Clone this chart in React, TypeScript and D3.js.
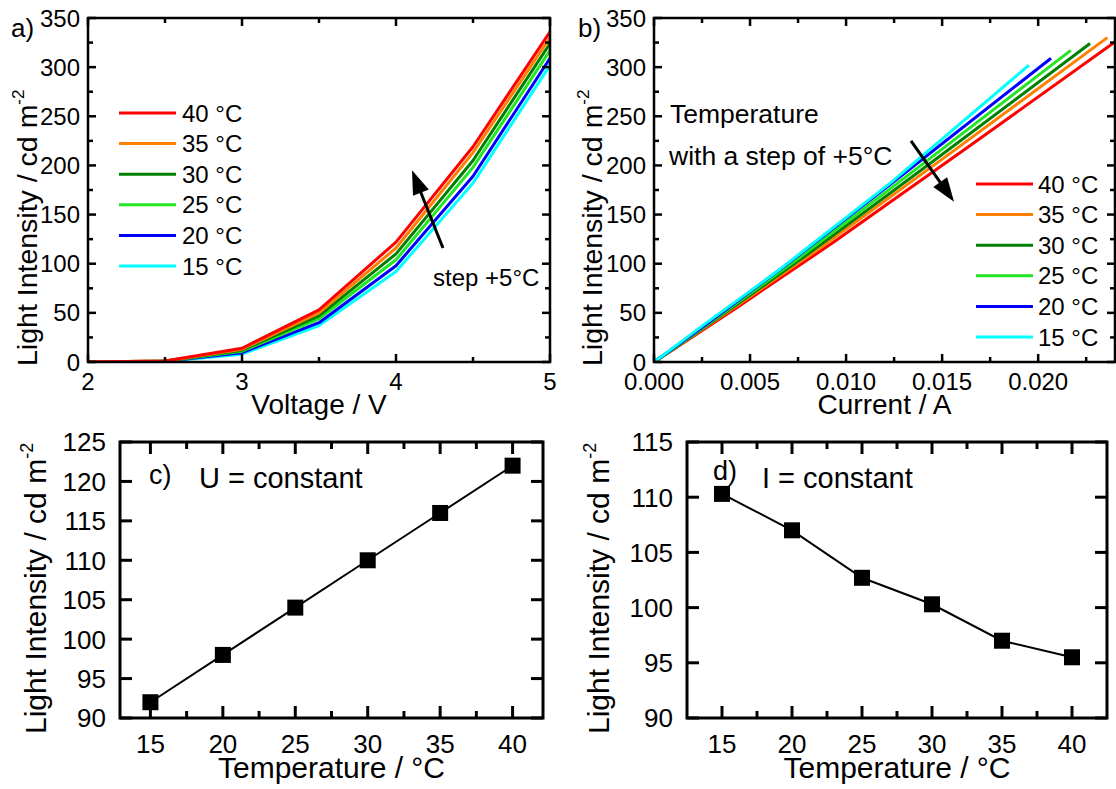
import React from "react";
import * as d3 from "d3";

const FONT = "'Liberation Sans', Arial, Helvetica, sans-serif";

// ---- Data: panels a) and b) ----
const seriesNames = ["40 °C", "35 °C", "30 °C", "25 °C", "20 °C", "15 °C"];
const seriesColors = ["#ff0000", "#ff8000", "#007f00", "#22e622", "#0000ff", "#00ffff"];
const voltage = [2, 2.5, 3, 3.5, 4, 4.5, 5];

const light40 = [0, 1, 14, 53, 122, 219, 336];
const light35 = [0, 1, 13, 50, 116, 213, 330];
const light30 = [0, 0.9, 12, 47, 110, 205, 324];
const light25 = [0, 0.8, 11, 44, 104, 198, 317];
const light20 = [0, 0.7, 9.5, 40, 98, 189, 309];
const light15 = [0, 0.5, 8, 37, 92, 182, 302];

const current40 = [0, 0.00008, 0.00111, 0.00413, 0.00936, 0.01637, 0.02474];
const current35 = [0, 0.00008, 0.001, 0.00378, 0.00864, 0.01547, 0.0236];
const current30 = [0, 0.00007, 0.0009, 0.00348, 0.00803, 0.01458, 0.0227];
const current25 = [0, 0.00006, 0.00081, 0.00319, 0.00742, 0.01376, 0.0217];
const current20 = [0, 0.00005, 0.00068, 0.00283, 0.00683, 0.01284, 0.02067];
const current15 = [0, 0.00003, 0.00056, 0.00253, 0.0064, 0.0123, 0.01952];

const lightSeries = [light40, light35, light30, light25, light20, light15];
const currentSeries = [current40, current35, current30, current25, current20, current15];

// ---- Data: panels c) and d) ----
const tempC = [15, 20, 25, 30, 35, 40];
const lightConstU = [92, 98, 104, 110, 116, 122];
const lightConstI = [110.3, 107.0, 102.7, 100.3, 97.0, 95.5];

// tick values
const aXMajor = [2, 3, 4, 5];
const aXMinor = [2.5, 3.5, 4.5];
const abYMajor = [0, 50, 100, 150, 200, 250, 300, 350];
const abYMinor = [25, 75, 125, 175, 225, 275, 325];
const bXMajor = [0, 0.005, 0.01, 0.015, 0.02];
const bXMinor = [0.0025, 0.0075, 0.0125, 0.0175, 0.0225];
const cdXMajor = [15, 20, 25, 30, 35, 40];
const cdXMinor = [17.5, 22.5, 27.5, 32.5, 37.5];
const cYMajor = [90, 95, 100, 105, 110, 115, 120, 125];
const dYMajor = [90, 95, 100, 105, 110, 115];

type Sc = d3.ScaleLinear<number, number>;

function Frame(props: {
  x: Sc; y: Sc; xMajor: number[]; xMinor: number[]; yMajor: number[]; yMinor: number[];
  xFmt: (v: number) => string; yFmt: (v: number) => string;
  majorLen: number; minorLen: number; sw: number; fs: number;
  xLabelBase: number; yLabelGap: number;
}) {
  const { x, y, xMajor, xMinor, yMajor, yMinor, xFmt, yFmt, majorLen, minorLen, sw, fs, xLabelBase, yLabelGap } = props;
  const [x0, x1] = x.range();
  const [yb, yt] = y.range();
  const ticks: JSX.Element[] = [];
  const addX = (v: number, len: number, k: string) => {
    const px = x(v);
    ticks.push(<line key={"xb" + k} x1={px} x2={px} y1={yb} y2={yb - len} />);
    ticks.push(<line key={"xt" + k} x1={px} x2={px} y1={yt} y2={yt + len} />);
  };
  const addY = (v: number, len: number, k: string) => {
    const py = y(v);
    ticks.push(<line key={"yl" + k} x1={x0} x2={x0 + len} y1={py} y2={py} />);
    ticks.push(<line key={"yr" + k} x1={x1} x2={x1 - len} y1={py} y2={py} />);
  };
  xMajor.forEach((v, i) => addX(v, majorLen, "M" + i));
  xMinor.forEach((v, i) => addX(v, minorLen, "m" + i));
  yMajor.forEach((v, i) => addY(v, majorLen, "M" + i));
  yMinor.forEach((v, i) => addY(v, minorLen, "m" + i));
  return (
    <g>
      <g stroke="#000" strokeWidth={sw}>{ticks}</g>
      <rect x={x0} y={yt} width={x1 - x0} height={yb - yt} fill="none" stroke="#000" strokeWidth={sw} />
      <g fontFamily={FONT} fontSize={fs} fill="#000">
        {xMajor.map((v, i) => (
          <text key={"xl" + i} x={x(v)} y={xLabelBase} textAnchor="middle">{xFmt(v)}</text>
        ))}
        {yMajor.map((v, i) => (
          <text key={"yl" + i} x={x0 - yLabelGap} y={y(v)} dy="0.36em" textAnchor="end">{yFmt(v)}</text>
        ))}
      </g>
    </g>
  );
}

function YTitle({ x, y, fs }: { x: number; y: number; fs: number }) {
  return (
    <text transform={`translate(${x},${y}) rotate(-90)`} fontFamily={FONT} fontSize={fs} textAnchor="start" fill="#000">
      Light Intensity / cd m<tspan dy={-fs * 0.45} fontSize={fs * 0.6}>-2</tspan>
    </text>
  );
}

function Arrow({ x1, y1, x2, y2, headLen, headW }: { x1: number; y1: number; x2: number; y2: number; headLen: number; headW: number }) {
  const dx = x2 - x1, dy = y2 - y1;
  const L = Math.hypot(dx, dy);
  const ux = dx / L, uy = dy / L;
  const bx = x2 - ux * headLen, by = y2 - uy * headLen;
  const px = -uy, py = ux;
  const pts = [[x2, y2], [bx + px * headW / 2, by + py * headW / 2], [bx - px * headW / 2, by - py * headW / 2]];
  return (
    <g>
      <line x1={x1} y1={y1} x2={bx + ux * 2} y2={by + uy * 2} stroke="#000" strokeWidth={3} />
      <polygon points={pts.map((p) => p.join(",")).join(" ")} fill="#000" />
    </g>
  );
}

export default function App() {
  // Panel a
  const ax = d3.scaleLinear().domain([2, 5]).range([88, 550]);
  const ay = d3.scaleLinear().domain([0, 350]).range([362, 18]);
  // Panel b
  const bx = d3.scaleLinear().domain([0, 0.024]).range([654, 1115]);
  const by = d3.scaleLinear().domain([0, 350]).range([362, 18]);
  // Panel c
  const cx = d3.scaleLinear().domain([12.9, 42.1]).range([120, 543]);
  const cy = d3.scaleLinear().domain([90, 125]).range([718, 442]);
  // Panel d
  const dx = d3.scaleLinear().domain([12.5, 42.5]).range([687, 1107]);
  const dy = d3.scaleLinear().domain([90, 115]).range([718, 442]);

  const lineA = (ls: number[]) =>
    d3.line<number>().x((_, i) => ax(voltage[i])).y((v) => ay(v))(ls) || "";
  const lineB = (cs: number[], ls: number[]) =>
    d3.line<number>().x((c) => bx(c)).y((_, i) => by(ls[i]))(cs) || "";
  const lineC = d3.line<number>().x((_, i) => cx(tempC[i])).y((v) => cy(v));
  const lineD = d3.line<number>().x((_, i) => dx(tempC[i])).y((v) => dy(v));

  const order = [0, 1, 2, 3, 4, 5];
  const legRowA = [113, 143.6, 174.2, 204.8, 235.4, 266];
  const legRowB = [184, 214.6, 245.2, 275.8, 306.4, 337];
  const fmtCur = d3.format(".3f");
  const fmtInt = (v: number) => String(v);
  const ms = 16;

  return (
    <svg width={1116} height={789} style={{ position: "absolute", left: 0, top: 0, background: "#fff" }}>
      <defs>
        <clipPath id="clipA"><rect x={88} y={18} width={462} height={344} /></clipPath>
        <clipPath id="clipB"><rect x={654} y={18} width={461} height={344} /></clipPath>
      </defs>
      <rect x={0} y={0} width={1116} height={789} fill="#fff" />

      {/* Panel a */}
      <g clipPath="url(#clipA)" fill="none" strokeWidth={3} strokeLinejoin="round">
        {order.slice().reverse().map((i) => (
          <path key={"a" + i} d={lineA(lightSeries[i])} stroke={seriesColors[i]} />
        ))}
      </g>
      <Frame x={ax} y={ay} xMajor={aXMajor} xMinor={aXMinor} yMajor={abYMajor} yMinor={abYMinor}
        xFmt={fmtInt} yFmt={fmtInt} majorLen={8} minorLen={5} sw={2.5} fs={24} xLabelBase={390} yLabelGap={8} />
      <g>
        {order.map((i) => (
          <g key={"la" + i}>
            <line x1={119} x2={176} y1={legRowA[i]} y2={legRowA[i]} stroke={seriesColors[i]} strokeWidth={3} />
            <text x={182} y={legRowA[i]} dy="0.36em" fontFamily={FONT} fontSize={24}>{seriesNames[i]}</text>
          </g>
        ))}
      </g>
      <Arrow x1={ax(4.305)} y1={ay(116)} x2={ax(4.104)} y2={ay(195)} headLen={24} headW={17} />
      <text x={433} y={286} fontFamily={FONT} fontSize={24}>step +5°C</text>
      <text x={11} y={37} fontFamily={FONT} fontSize={26}>a)</text>
      <YTitle x={37} y={366} fs={28.5} />
      <text x={(88 + 550) / 2} y={414} textAnchor="middle" fontFamily={FONT} fontSize={28}>Voltage / V</text>

      {/* Panel b */}
      <g clipPath="url(#clipB)" fill="none" strokeWidth={3} strokeLinejoin="round">
        {order.map((i) => (
          <path key={"b" + i} d={lineB(currentSeries[i], lightSeries[i])} stroke={seriesColors[i]} />
        ))}
      </g>
      <Frame x={bx} y={by} xMajor={bXMajor} xMinor={bXMinor} yMajor={abYMajor} yMinor={abYMinor}
        xFmt={fmtCur} yFmt={fmtInt} majorLen={8} minorLen={5} sw={2.5} fs={24} xLabelBase={390} yLabelGap={8} />
      <g>
        {order.map((i) => (
          <g key={"lb" + i}>
            <line x1={976} x2={1033} y1={legRowB[i]} y2={legRowB[i]} stroke={seriesColors[i]} strokeWidth={3} />
            <text x={1038} y={legRowB[i]} dy="0.36em" fontFamily={FONT} fontSize={24}>{seriesNames[i]}</text>
          </g>
        ))}
      </g>
      <text x={670} y={123} fontFamily={FONT} fontSize={26.5}>Temperature</text>
      <text x={669} y={165} fontFamily={FONT} fontSize={26.5}>with a step of +5°C</text>
      <Arrow x1={bx(0.01338)} y1={by(225)} x2={bx(0.01562)} y2={by(163)} headLen={24} headW={17} />
      <text x={578} y={37} fontFamily={FONT} fontSize={26}>b)</text>
      <YTitle x={602} y={366} fs={28.5} />
      <text x={(654 + 1115) / 2} y={414} textAnchor="middle" fontFamily={FONT} fontSize={28}>Current / A</text>

      {/* Panel c */}
      <Frame x={cx} y={cy} xMajor={cdXMajor} xMinor={cdXMinor} yMajor={cYMajor} yMinor={[]}
        xFmt={fmtInt} yFmt={fmtInt} majorLen={12} minorLen={7} sw={3} fs={26} xLabelBase={753} yLabelGap={14} />
      <path d={lineC(lightConstU) || ""} fill="none" stroke="#000" strokeWidth={2} />
      {lightConstU.map((v, i) => (
        <rect key={"mc" + i} x={cx(tempC[i]) - ms / 2} y={cy(v) - ms / 2} width={ms} height={ms} fill="#000" />
      ))}
      <text x={149} y={484} fontFamily={FONT} fontSize={27}>c)</text>
      <text x={199} y={488} fontFamily={FONT} fontSize={29}>U = constant</text>
      <YTitle x={46} y={734} fs={30} />
      <text x={(120 + 543) / 2} y={778} textAnchor="middle" fontFamily={FONT} fontSize={30}>Temperature / °C</text>

      {/* Panel d */}
      <Frame x={dx} y={dy} xMajor={cdXMajor} xMinor={cdXMinor} yMajor={dYMajor} yMinor={[]}
        xFmt={fmtInt} yFmt={fmtInt} majorLen={12} minorLen={7} sw={3} fs={26} xLabelBase={753} yLabelGap={14} />
      <path d={lineD(lightConstI) || ""} fill="none" stroke="#000" strokeWidth={2} />
      {lightConstI.map((v, i) => (
        <rect key={"md" + i} x={dx(tempC[i]) - ms / 2} y={dy(v) - ms / 2} width={ms} height={ms} fill="#000" />
      ))}
      <text x={713} y={480} fontFamily={FONT} fontSize={27}>d)</text>
      <text x={762} y={488} fontFamily={FONT} fontSize={29}>I = constant</text>
      <YTitle x={609} y={734} fs={30} />
      <text x={(687 + 1107) / 2} y={778} textAnchor="middle" fontFamily={FONT} fontSize={30}>Temperature / °C</text>
    </svg>
  );
}
